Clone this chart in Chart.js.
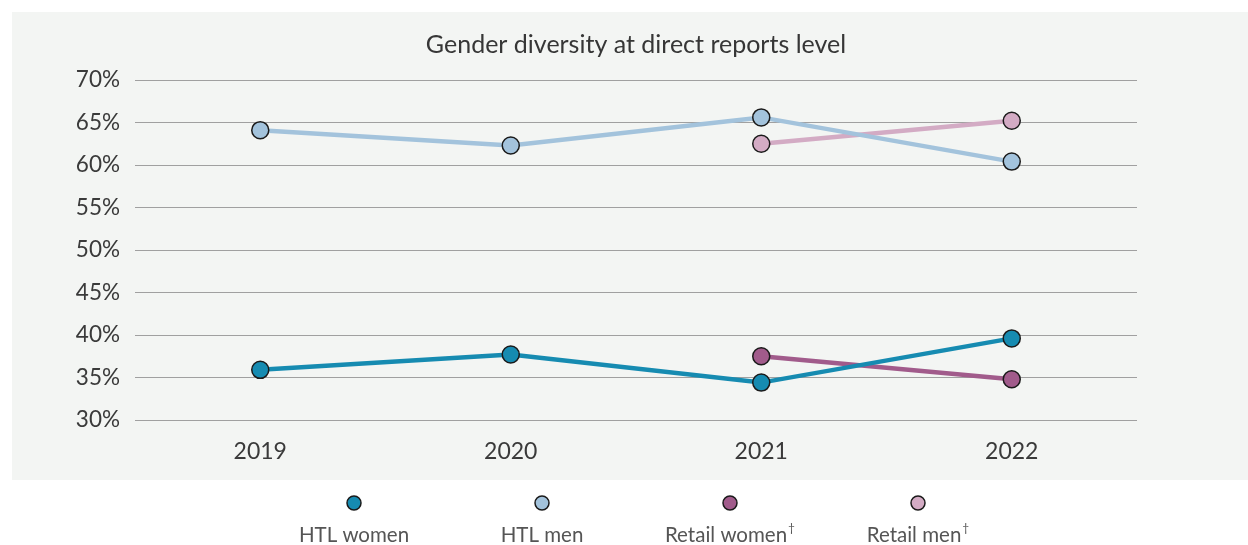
<!DOCTYPE html>
<html>
<head>
<meta charset="utf-8">
<script src="https://cdn.jsdelivr.net/npm/chart.js@4.4.1/dist/chart.umd.min.js"></script>
<style>
  html,body{margin:0;padding:0;background:#fff;}
  #wrap{width:1248px;height:545px;position:relative;}
</style>
</head>
<body>
<div id="wrap"><canvas id="chart" width="1248" height="545"></canvas></div>
<script>
// data
const years = ["2019","2020","2021","2022"];
const htlWomen = [35.9, 37.7, 34.4, 39.6];
const htlMen = [64.1, 62.3, 65.6, 60.4];
const retailWomen = [null, null, 37.5, 34.8];
const retailMen = [null, null, 62.5, 65.2];
const seriesNames = ["HTL women","HTL men","Retail women\u2020","Retail men\u2020"];
const seriesColors = ["#168bb1","#a3c3dc","#a15b8b","#d3abc4"];

const FONT = "Lato, 'Noto Sans', sans-serif";

// grey panel + title + custom legend (dot above label)
const decor = {
  id:"decor",
  beforeDraw(chart){
    const ctx = chart.ctx;
    ctx.save();
    ctx.fillStyle = "#f3f5f3";
    ctx.fillRect(12,12,chart.width-12,468);
    ctx.fillStyle = "#363636";
    ctx.font = "25px " + FONT;
    ctx.textAlign = "center";
    ctx.textBaseline = "middle";
    ctx.fillText("Gender diversity at direct reports level", 636, 45);
    ctx.restore();
  },
  afterDraw(chart){
    const ctx = chart.ctx;
    ctx.save();
    chart.data.datasets.forEach((ds,i)=>{
      const x = 354 + i*188;
      ctx.beginPath();
      ctx.arc(x,503,7,0,Math.PI*2);
      ctx.fillStyle = ds.pointBackgroundColor;
      ctx.fill();
      ctx.lineWidth = 1.5;
      ctx.strokeStyle = "#1a1a1a";
      ctx.stroke();

      // label, dagger drawn as a small superscript
      let txt = ds.label, sup = "";
      if(txt.endsWith("\u2020")){ txt = txt.slice(0,-1); sup = "\u2020"; }
      ctx.fillStyle = "#555";
      ctx.font = "20.5px " + FONT;
      ctx.textBaseline = "middle";
      const w = ctx.measureText(txt).width;
      ctx.font = "12px " + FONT;
      const ws = sup ? ctx.measureText(sup).width + 1 : 0;
      const x0 = x - (w + ws)/2;
      ctx.textAlign = "left";
      ctx.font = "20.5px " + FONT;
      ctx.fillText(txt, x0, 535);
      if(sup){
        ctx.font = "12px " + FONT;
        ctx.fillText(sup, x0 + w + 1, 528);
      }
    });
    ctx.restore();
  }
};

function makeSet(label, data, color){
  return {
    label: label,
    data: data,
    borderColor: color,
    backgroundColor: color,
    pointBackgroundColor: color,
    pointBorderColor: "#1a1a1a",
    pointBorderWidth: 1.5,
    pointRadius: 8.5,
    borderWidth: 4.5,
    tension: 0,
    spanGaps: false
  };
}

new Chart(document.getElementById("chart"),{
  type:"line",
  data:{
    labels: years,
    datasets:[
      makeSet(seriesNames[0], htlWomen, seriesColors[0]),
      makeSet(seriesNames[1], htlMen, seriesColors[1]),
      makeSet(seriesNames[2], retailWomen, seriesColors[2]),
      makeSet(seriesNames[3], retailMen, seriesColors[3])
    ]
  },
  options:{
    responsive:false,
    animation:false,
    layout:{padding:{left:0,right:111,top:80,bottom:65}},
    plugins:{legend:{display:false},title:{display:false},tooltip:{enabled:false}},
    scales:{
      x:{
        offset:true,
        grid:{display:false},
        border:{display:false},
        ticks:{color:"#3a3a3a",font:{family:FONT,size:23},padding:10},
        afterFit(s){ s.height = 60; }
      },
      y:{
        min:30,max:70,
        grid:{color:"#a0a0a0",lineWidth:1,drawTicks:false},
        border:{display:false},
        ticks:{stepSize:5,color:"#3a3a3a",font:{family:FONT,size:22.5},padding:15,
          callback:v=>v+"%"},
        afterFit(s){ s.width = 135; }
      }
    }
  },
  plugins:[decor]
});
</script>
</body>
</html>
